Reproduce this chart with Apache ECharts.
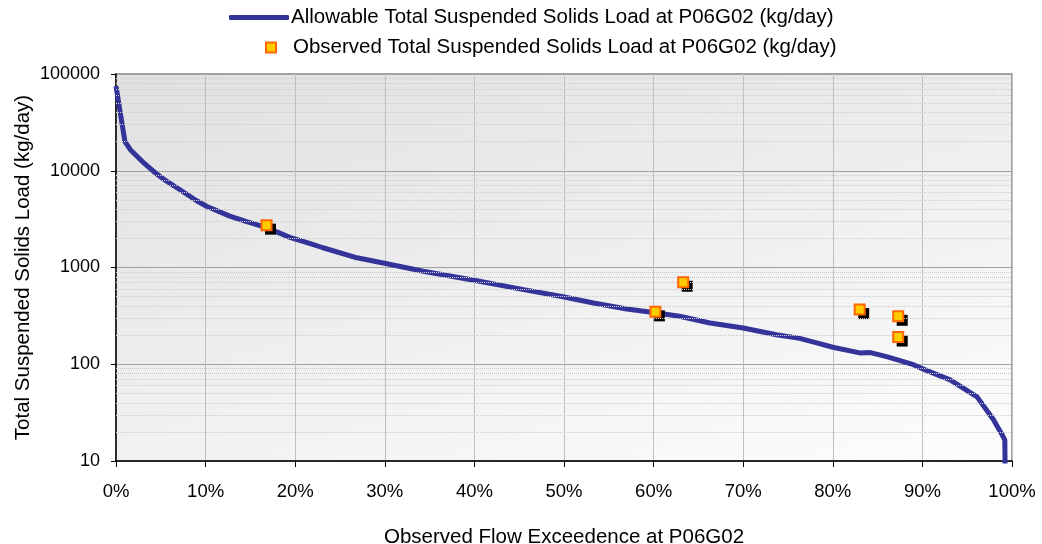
<!DOCTYPE html>
<html>
<head>
<meta charset="utf-8">
<style>
html,body{margin:0;padding:0;background:#fff;}
#chart{width:1042px;height:544px;}
</style>
<script src="https://cdn.jsdelivr.net/npm/echarts@6/dist/echarts.min.js"></script>
</head>
<body>
<div id="chart"></div>
<script>
// Allowable load curve: [flow exceedence %, kg/day]
const allowableCurve = [
  [0, 75000], [1.0, 20000], [1.6, 16500], [3.0, 12300], [4.4, 9500], [5.3, 8200],
  [7.1, 6400], [9.0, 4900], [10.1, 4300], [12.7, 3400], [14.5, 3000], [16.8, 2580],
  [19.4, 2050], [21.6, 1780], [23.1, 1600], [26.9, 1260], [30.1, 1100], [34.3, 916],
  [40.1, 733], [45.5, 591], [49.6, 504], [53.3, 430], [57.0, 373], [60.2, 340],
  [62.9, 313], [66.3, 267], [70.0, 237], [73.7, 202], [76.3, 185], [78.0, 168],
  [80.0, 150], [83.0, 131], [84.2, 132], [86.0, 120], [89.0, 99], [90.5, 86],
  [93.1, 69], [96.1, 46], [97.9, 27], [98.8, 19.4], [99.2, 16.5], [99.25, 5]
];
// Observed loads: [flow exceedence %, kg/day]
const observedLoads = [
  [16.8, 2740], [60.2, 348], [63.3, 704], [83.0, 367], [87.3, 313], [87.3, 191]
];
const seriesNames = [
  'Allowable Total Suspended Solids Load at P06G02 (kg/day)',
  'Observed Total Suspended Solids Load at P06G02 (kg/day)'
];
const xTitle = 'Observed Flow Exceedence at P06G02';
const yTitle = 'Total Suspended Solids Load (kg/day)';
const yDecades = [10, 100, 1000, 10000];

const minorLines = [];
yDecades.forEach(d => { for (let m = 2; m <= 9; m++) minorLines.push({ yAxis: d * m }); });

const FONT = 'Liberation Sans, Arial, sans-serif';
const chart = echarts.init(document.getElementById('chart'), null, { renderer: 'canvas' });
chart.setOption({
  animation: false,
  backgroundColor: '#ffffff',
  textStyle: { fontFamily: FONT },
  legend: [
    {
      data: [seriesNames[0]],
      left: 229, top: 7, padding: 0,
      icon: 'roundRect', itemWidth: 60, itemHeight: 5,
      textStyle: { fontFamily: FONT, fontSize: 20.5, color: '#000', padding: [0, 0, 0, -3] }
    },
    {
      data: [{ name: seriesNames[1], itemStyle: { color: '#FFCC00', borderColor: '#FF6600', borderWidth: 2 } }],
      left: 265, top: 37, padding: 0,
      icon: 'rect', itemWidth: 10, itemHeight: 10,
      textStyle: { fontFamily: FONT, fontSize: 20.5, color: '#000', padding: [0, 0, 0, 12] }
    }
  ],
  grid: {
    left: 116, right: 30, top: 74, bottom: 83,
    outerBoundsMode: 'none', containLabel: false,
    show: true,
    borderColor: '#888', borderWidth: 1.5,
    backgroundColor: new echarts.graphic.LinearGradient(116, 74, 288, 670, [
      { offset: 0, color: '#e0e0e0' }, { offset: 1, color: '#fdfdfd' }
    ], true)
  },
  xAxis: {
    type: 'value', min: 0, max: 100, interval: 10,
    name: xTitle, nameLocation: 'middle', nameGap: 66, nameMoveOverlap: false,
    nameTextStyle: { fontFamily: FONT, fontSize: 20.5, color: '#000' },
    axisLine: { show: true, onZero: false, lineStyle: { color: '#000', width: 1.5 } },
    axisTick: { show: true, length: 6, lineStyle: { color: '#000' } },
    axisLabel: { formatter: '{value}%', margin: 21, fontFamily: FONT, fontSize: 18.5, color: '#000' },
    splitLine: { show: true, lineStyle: { color: '#c0c0c0', width: 1 } }
  },
  yAxis: {
    type: 'log', logBase: 10, min: 10, max: 100000,
    name: yTitle, nameLocation: 'middle', nameGap: 82, nameRotate: 90, nameMoveOverlap: false,
    nameTextStyle: { fontFamily: FONT, fontSize: 20.5, color: '#000' },
    axisLine: { show: true, lineStyle: { color: '#000', width: 1.5 } },
    axisTick: { show: true, length: 5, lineStyle: { color: '#000' } },
    axisLabel: { margin: 16, fontFamily: FONT, fontSize: 18, color: '#000', formatter: v => String(v) },
    splitLine: { show: true, lineStyle: { color: '#a0a0a0', width: 1 } }
  },
  series: [
    {
      name: '_minor', type: 'line', data: [], silent: true, z: 1,
      markLine: {
        silent: true, symbol: 'none', label: { show: false },
        lineStyle: { color: '#cccccc', type: 'dotted', width: 1 },
        data: minorLines
      }
    },
    {
      name: seriesNames[0], type: 'line', data: allowableCurve, z: 3,
      showSymbol: false, symbol: 'none', clip: true,
      lineStyle: { color: '#333399', width: 5 },
      itemStyle: { color: '#333399' }
    },
    {
      name: '_shadow', type: 'scatter', data: observedLoads, z: 4,
      symbol: 'rect', symbolSize: 11, symbolOffset: [4, 4],
      itemStyle: { color: '#000', opacity: 1, borderWidth: 0 }, silent: true
    },
    {
      name: seriesNames[1], type: 'scatter', data: observedLoads, z: 5,
      symbol: 'rect', symbolSize: 10,
      itemStyle: { color: '#FFCC00', borderColor: '#FF6600', borderWidth: 2, opacity: 1 }
    }
  ]
});
</script>
</body>
</html>
